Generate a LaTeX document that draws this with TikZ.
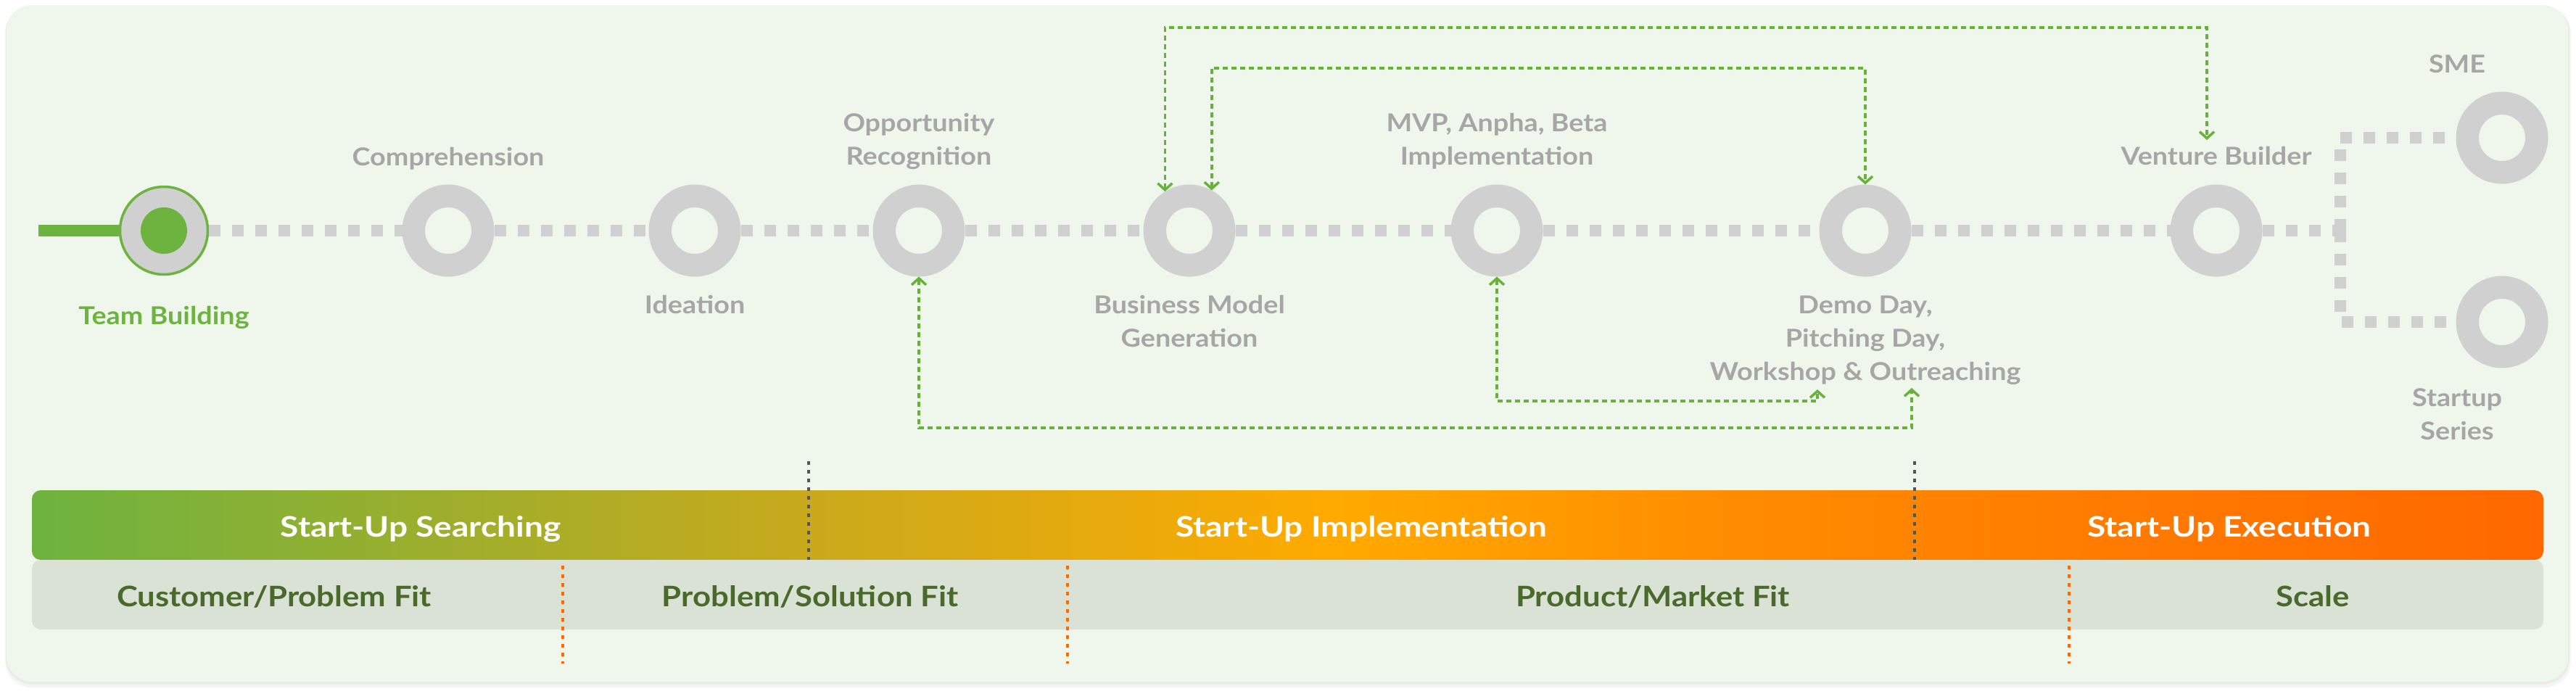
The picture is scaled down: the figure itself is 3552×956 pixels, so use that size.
\documentclass[tikz,border=0pt]{standalone}
\usepackage{fontspec}
\setmainfont{Lato}
\usetikzlibrary{arrows.meta}
\definecolor{panel}{RGB}{239,246,236}
\definecolor{ring}{RGB}{208,208,208}
\definecolor{lblgray}{RGB}{166,166,166}
\definecolor{tbgreen}{RGB}{109,179,63}
\definecolor{arrgreen}{RGB}{104,178,58}
\definecolor{fitbar}{RGB}{218,226,214}
\definecolor{fittext}{RGB}{72,106,42}
\definecolor{sepor}{RGB}{255,106,0}
\definecolor{sepgray}{RGB}{85,85,85}
\definecolor{cza}{RGB}{109,179,63}
\definecolor{czb}{RGB}{201,170,28}
\definecolor{czc}{RGB}{255,170,0}
\definecolor{czd}{RGB}{255,140,0}
\definecolor{cze}{RGB}{255,104,0}
\pgfdeclarehorizontalshading{barshade}{100bp}{color(0bp)=(cza); color(25bp)=(cza); color(40.5bp)=(czb); color(51bp)=(czc); color(58.8bp)=(czd); color(75bp)=(cze); color(100bp)=(cze)}
\newcommand\twol[1]{\begin{tabular}[t]{@{}c@{}}#1\end{tabular}}
\tikzset{
  lbl/.style={font=\fontsize{34}{46}\selectfont\bfseries\addfontfeature{FakeStretch=1.11}, text=lblgray, inner sep=0pt, anchor=base},
  barlbl/.style={font=\fontsize{39}{46}\selectfont\bfseries\addfontfeature{FakeStretch=1.18}, text=white, inner sep=0pt, anchor=base},
  fitlbl/.style={font=\fontsize{39}{46}\selectfont\bfseries\addfontfeature{FakeStretch=1.12}, text=fittext, inner sep=0pt, anchor=base},
  ringnode/.style={circle, draw=ring, line width=31.5pt, minimum size=95.5pt, inner sep=0pt},
  grayline/.style={draw=ring, line width=16pt, dash pattern=on 16pt off 16pt},
  tip/.tip={Straight Barb[length=9pt, width=20pt, line width=3.5pt]},
  loopline/.style={draw=arrgreen, line width=3.5pt, dash pattern=on 7pt off 5pt, tip-tip},
  sepline/.style={line width=4pt, dash pattern=on 4.5pt off 7.5pt},
}
\begin{document}
\begin{tikzpicture}[x=1pt, y=-1pt]
\useasboundingbox[fill=white] (0,0) rectangle (3552,956);
% panel with soft shadow
\fill[black, opacity=0.04, rounded corners=36pt] (7,9) rectangle (3545,948);
\fill[black, opacity=0.04, rounded corners=36pt] (8,8) rectangle (3543,944);
\fill[panel, rounded corners=35pt] (9,7) rectangle (3541,940);

% circles
\node[circle, fill=ring, draw=tbgreen, line width=3.5pt, minimum size=121pt, inner sep=0pt] (tb) at (226,318) {};
\node[circle, fill=tbgreen, minimum size=64pt, inner sep=0pt] (tbdot) at (tb.center) {};
\node[ringnode] (comp) at (618,318) {};
\node[ringnode] (idea) at (958,318) {};
\node[ringnode] (opp) at (1267,318) {};
\node[ringnode] (bm) at (1640,318) {};
\node[ringnode] (mvp) at (2064,318) {};
\node[ringnode] (demo) at (2572,318) {};
\node[ringnode] (vb) at (3056,318) {};
\node[ringnode] (sme) at (3450,190) {};
\node[ringnode] (ss) at (3450,444) {};

% main line
\coordinate (start) at (53,318);
\coordinate (br) at (3227,318);
\draw[tbgreen, line width=16pt] (start) -- (tb.west);
\draw[grayline] (tb.east) -- (comp.west);
\draw[grayline] (comp.east) -- (idea.west);
\draw[grayline] (idea.east) -- (opp.west);
\draw[grayline] (opp.east) -- (bm.west);
\draw[grayline] (bm.east) -- (mvp.west);
\draw[grayline] (mvp.east) -- (demo.west);
\draw[grayline] (demo.east) -- (vb.west);
\draw[grayline] (vb.east) -- (br);
\draw[grayline] (br) |- (sme.west);
\draw[grayline] (br) |- (ss.west);

% labels
\node[lbl, text=tbgreen] (tbl) at (226,447) {Team Building};
\node[lbl] (compl) at (618,228) {Comprehension};
\node[lbl] (ideal) at (958,432) {Ideation};
\node[lbl] (oppl) at (1267,181) {\twol{Opportunity\\Recognition}};
\node[lbl] (bml) at (1640,432) {\twol{Business Model\\Generation}};
\node[lbl] (mvpl) at (2064,181) {\twol{MVP, Anpha, Beta\\Implementation}};
\node[lbl] (demol) at (2572,432) {\twol{Demo Day,\\Pitching Day,\\Workshop \& Outreaching}};
\node[lbl] (vbl) at (3056,227) {Venture Builder};
\node[lbl] (smel) at (3388,100) {SME};
\node[lbl] (ssl) at (3388,560) {\twol{Startup\\Series}};

% feedback loops
\coordinate (vbin) at (3043,193);
\coordinate (otop) at (3043,38);
\coordinate (itop) at (2572,94);
\coordinate (dw1) at (2506,537);
\coordinate (mbot) at (2506,553);
\coordinate (dw2) at (2636,535);
\coordinate (obot) at (2636,590);
\draw[loopline] (bm.122) |- (otop) -- (vbin);
\draw[loopline] (bm.61) |- (itop) -- (demo.north);
\draw[loopline] (opp.south) |- (obot) -- (dw2);
\draw[loopline] (mvp.south) |- (mbot) -- (dw1);

% bars
\shade[shading=barshade, rounded corners=12pt] (44,676) rectangle (3507,772);
\fill[fitbar, rounded corners=12pt] (44,772) rectangle (3507,868);

\node[barlbl] (s1) at (580,740) {Start-Up Searching};
\node[barlbl] (s2) at (1877,740) {Start-Up Implementation};
\node[barlbl] (s3) at (3074,740) {Start-Up Execution};
\node[fitlbl] (f1) at (378,836) {Customer/Problem Fit};
\node[fitlbl] (f2) at (1117,836) {Problem/Solution Fit};
\node[fitlbl] (f3) at (2279,836) {Product/Market Fit};
\node[fitlbl] (f4) at (3189,836) {Scale};

% separators
\draw[sepline, sepgray] (1115,636) -- (1115,772);
\draw[sepline, sepgray] (2640,636) -- (2640,772);
\draw[sepline, sepor] (776,780) -- (776,915);
\draw[sepline, sepor] (1472,780) -- (1472,915);
\draw[sepline, sepor] (2853,780) -- (2853,915);
\end{tikzpicture}
\end{document}
